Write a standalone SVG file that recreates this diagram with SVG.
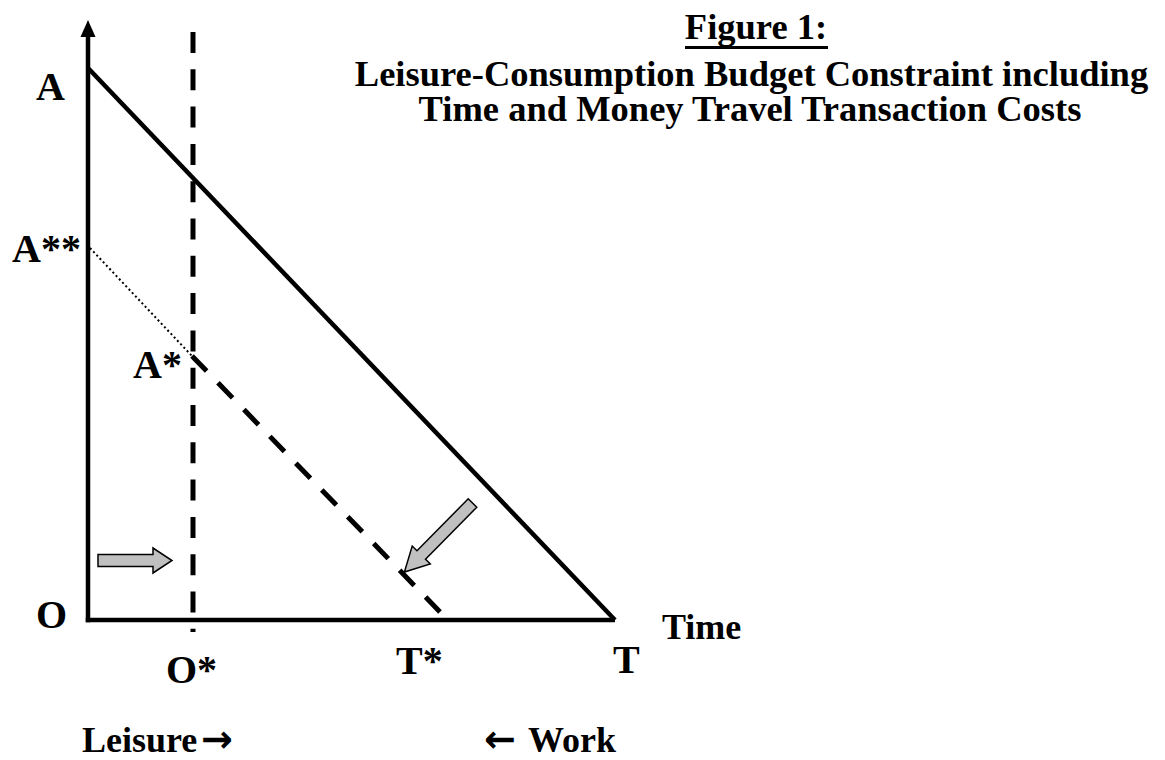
<svg xmlns="http://www.w3.org/2000/svg" width="1165" height="760" viewBox="0 0 1165 760">
<style>
.t{font-family:"Liberation Serif","Times New Roman",serif;font-weight:bold;fill:#000}
.lab{font-size:40px}
.ttl{font-size:36.5px;text-anchor:middle}
.small{font-size:36px}
.sym{font-family:"DejaVu Sans",sans-serif;font-weight:bold;font-size:38px;fill:#000}
.ln{stroke:#000;fill:none;stroke-width:4.5}
.dash{stroke:#000;fill:none;stroke-width:5;stroke-dasharray:21 16.3}
.dot{stroke:#000;fill:none;stroke-width:2;stroke-dasharray:2 2.7}
.blk{fill:#c0c0c0;stroke:#000;stroke-width:1.5;stroke-linejoin:miter}
</style>
<rect width="1165" height="760" fill="#fff"/>
<g id="title">
<text class="t ttl" x="756" y="39">Figure 1:</text>
<line x1="685" y1="47.5" x2="828" y2="47.5" stroke="#000" stroke-width="3"/>
<text class="t ttl" x="751.5" y="86">Leisure-Consumption Budget Constraint including</text>
<text class="t ttl" x="750" y="121">Time and Money Travel Transaction Costs</text>
</g>
<g id="connectors">
<line class="ln" x1="88" y1="34" x2="88" y2="622.25"/>
<polygon points="88,20 80.5,37 95.5,37" fill="#000"/>
<line class="ln" x1="85.75" y1="620" x2="615" y2="620"/>
<line class="ln" x1="88" y1="68" x2="615" y2="620"/>
<line class="dash" x1="193" y1="32" x2="193" y2="632"/>
<line class="dot" x1="90" y1="248" x2="192" y2="356"/>
<line class="dash" x1="192" y1="356" x2="440" y2="612"/>
</g>
<g id="arrow-right">
<polygon class="blk" points="98,554.5 153,554.5 153,548 172,560.5 153,573 153,566.5 98,566.5"/>
</g>
<g id="arrow-diag">
<polygon class="blk" transform="translate(472.5,503) rotate(134.6)" points="0,-6 73,-6 73,-12.7 97,0 73,12.7 73,6 0,6"/>
</g>
<g id="labels">
<text class="t lab" x="36" y="100">A</text>
<text class="t lab" x="12" y="262">A**</text>
<text class="t lab" x="133" y="378">A*</text>
<text class="t lab" x="36" y="628">O</text>
<text class="t lab" x="166" y="683">O*</text>
<text class="t lab" x="396" y="674">T*</text>
<text class="t lab" x="613" y="673">T</text>
<text class="t small" x="662" y="639">Time</text>
</g>
<g id="leisure">
<text class="t small" x="82" y="752">Leisure</text>
<text class="sym" x="201" y="752">→</text>
</g>
<g id="work">
<text class="sym" x="484" y="752">←</text>
<text class="t small" x="528" y="752">Work</text>
</g>
</svg>
